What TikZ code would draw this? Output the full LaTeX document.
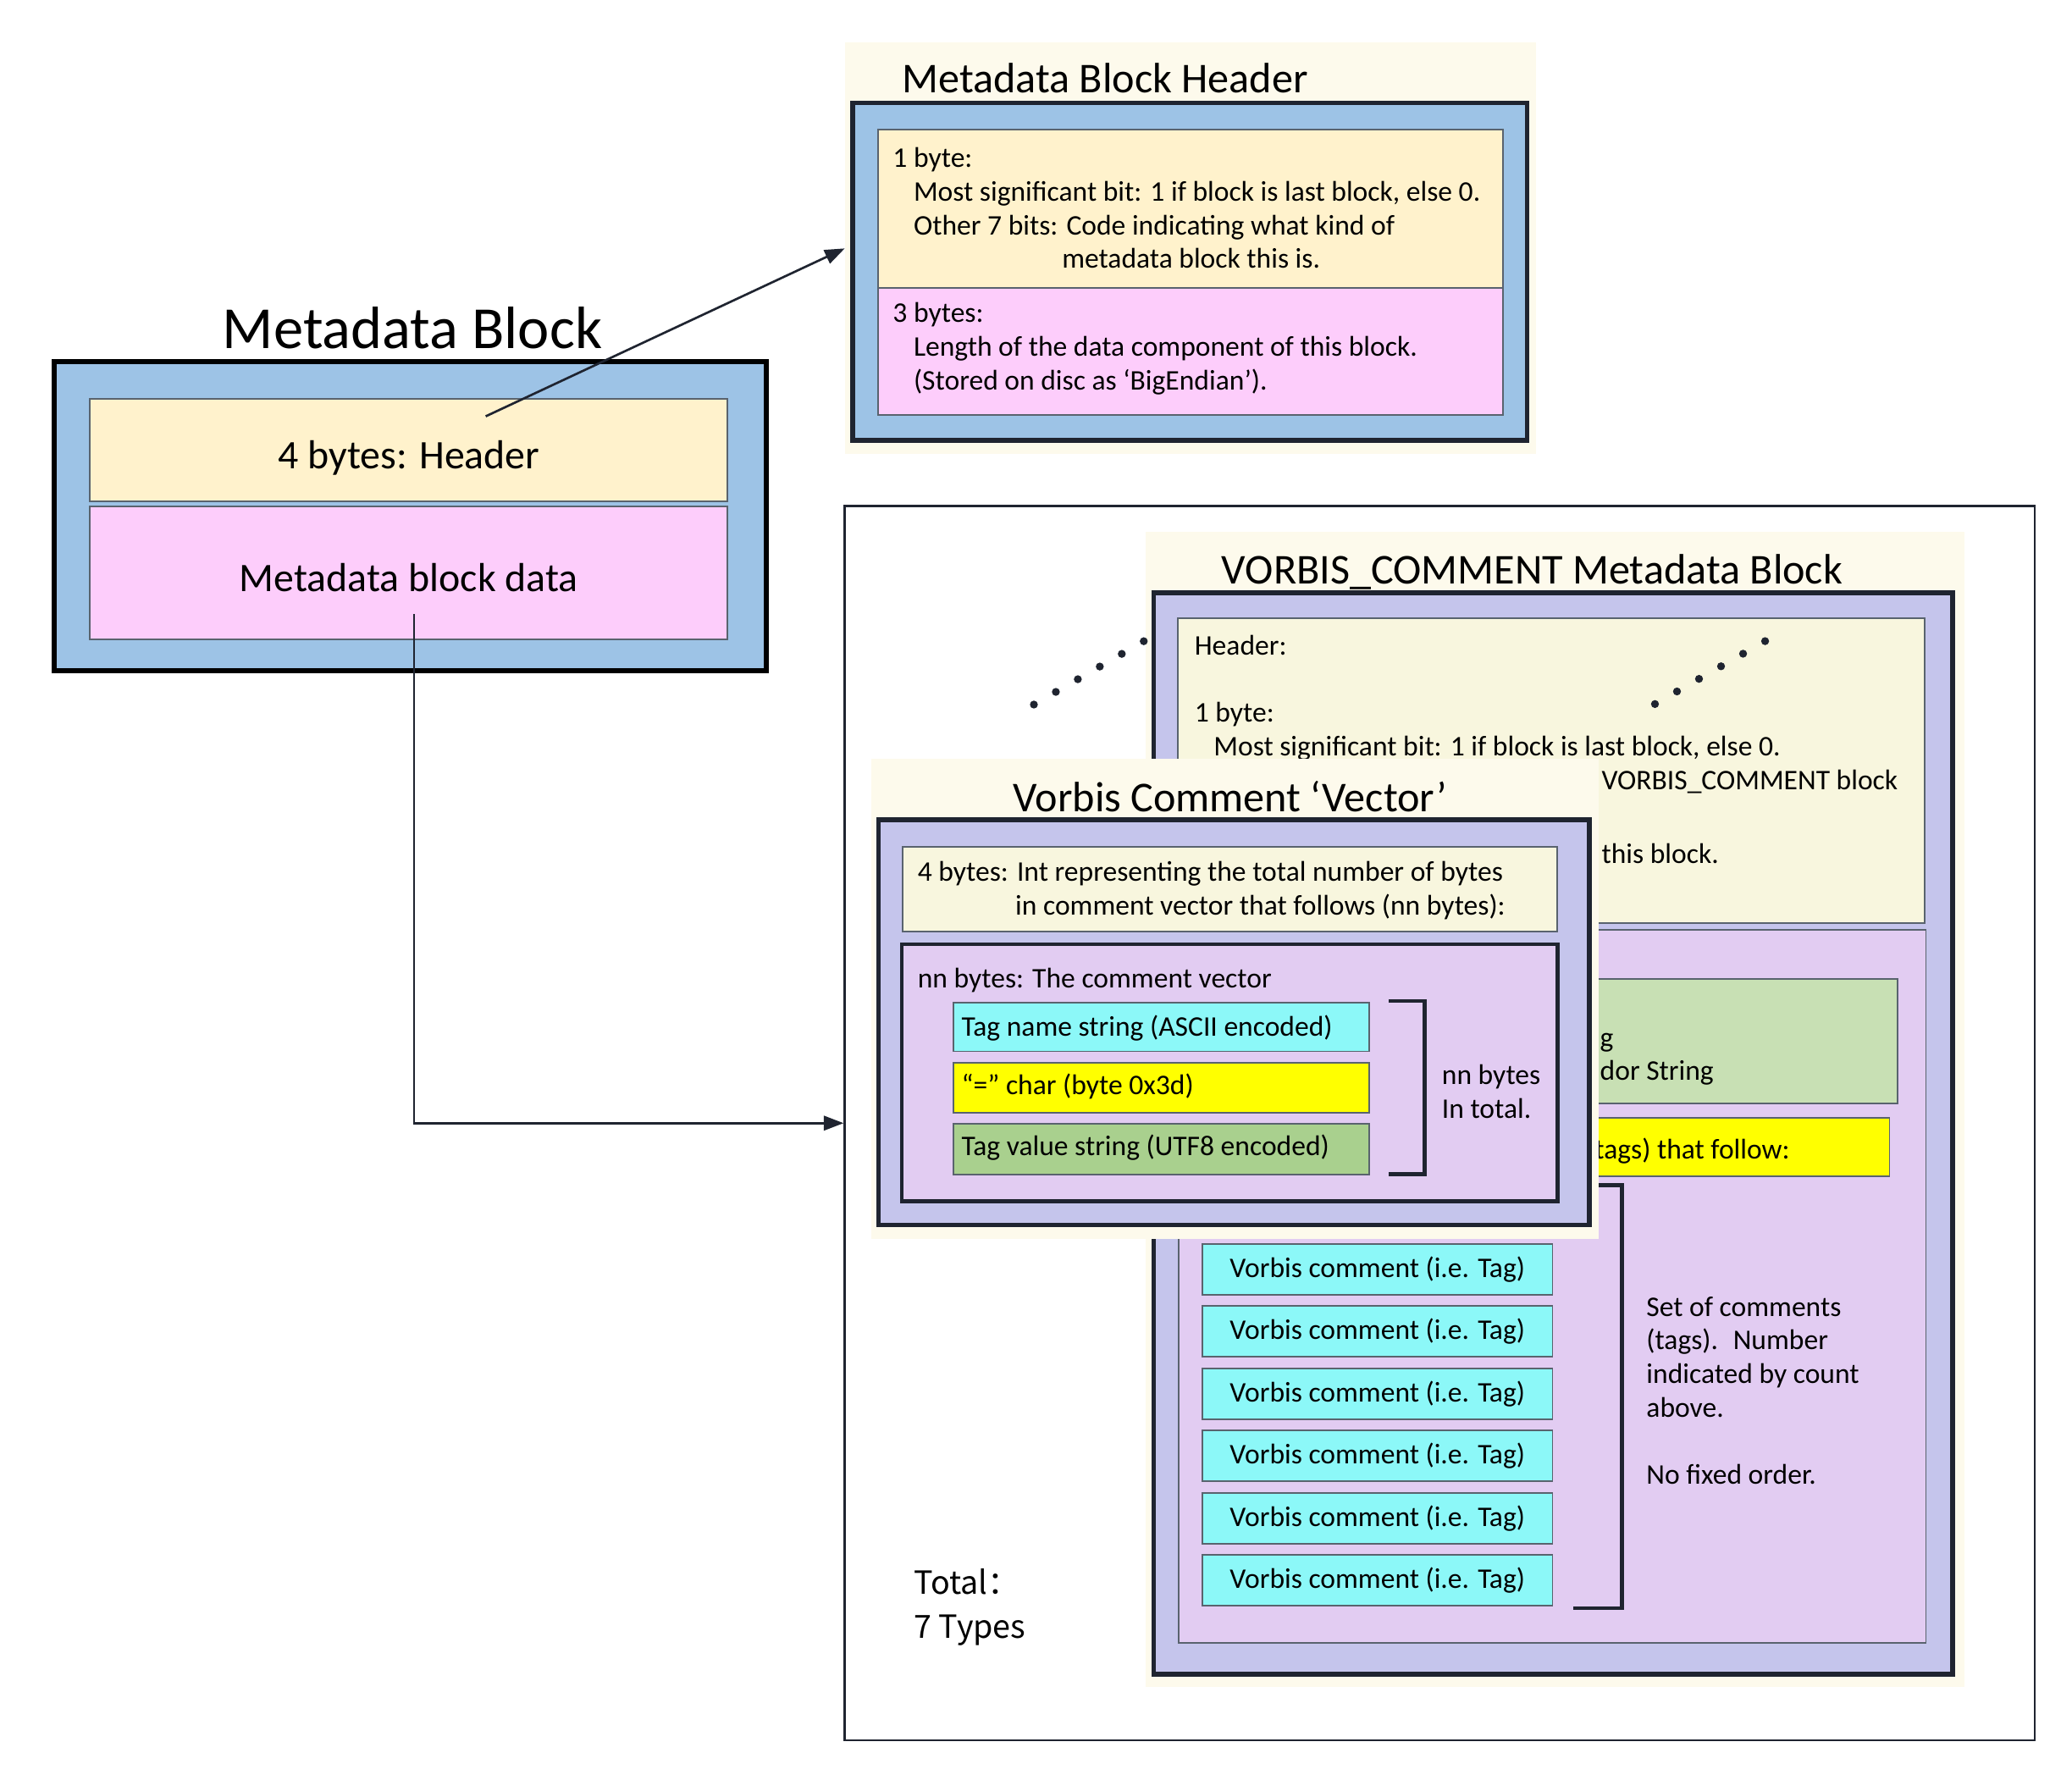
\documentclass[tikz,border=0pt]{standalone}
\usepackage{fontspec}
\setmainfont{Carlito}
\newfontfamily\cjk{Noto Sans CJK SC}
\usetikzlibrary{arrows.meta}

\definecolor{mbblue}{HTML}{9DC3E6}
\definecolor{mbcream}{HTML}{FFF2CC}
\definecolor{mbpink}{HTML}{FDCDFB}
\definecolor{panelbg}{HTML}{FDFAEC}
\definecolor{vlav}{HTML}{C5C5EC}
\definecolor{vcream}{HTML}{F8F6DE}
\definecolor{vlilac}{HTML}{E2CCF2}
\definecolor{vcyan}{HTML}{8CF8F8}
\definecolor{vyellow}{HTML}{FFFF00}
\definecolor{vgreen}{HTML}{A9D08E}
\definecolor{vgreenlt}{HTML}{C8E0B4}
\definecolor{edge}{HTML}{59636E}
\definecolor{dark}{HTML}{1F2430}

\newcommand{\bodyfont}{\fontsize{21.4}{25.3}\selectfont}
\newcommand{\blk}[7]{\node[#2, minimum width={#5-#3}, minimum height={#6-#4}] (#1) at ({(#3+#5)/2},{(#4+#6)/2}) {#7};}
\newcommand{\txtat}[4]{\node[txt] (#1) at (#2,#3) {#4};}

\begin{document}
\begin{tikzpicture}[x=1pt, y=-1pt,
  box/.style={draw=edge, line width=1.2pt, inner sep=0pt, outer sep=0pt},
  outerbox/.style={draw=dark, line width=3.5pt, inner sep=0pt, outer sep=0pt},
  panel/.style={fill=panelbg, inner sep=0pt, outer sep=0pt},
  bigtxt/.style={font=\fontsize{30.5}{36}\selectfont, text height=28pt, text depth=0pt},
  txt/.style={anchor=west, inner sep=0pt, align=left, font=\bodyfont},
  ttl/.style={anchor=base west, inner sep=0pt, font=\fontsize{32}{38}\selectfont},
  conn/.style={draw=dark, line width=1.7pt, -{Triangle[length=15pt,width=11pt]}},
  dots/.style={draw=dark, line width=6pt, line cap=round, dash pattern=on 0pt off 19.1pt},
  brk/.style={draw=dark, line width=3pt}]

  \useasboundingbox (0,0) rectangle (1560,1335.6);

  % outer frame
  \blk{frame}{draw=dark, line width=1.7pt, inner sep=0pt}{636}{381}{1532}{1310}{}

  % Metadata block
  % --------------
  \node[anchor=base, inner sep=0pt, font=\fontsize{45}{54}\selectfont] (mbtitle) at (310.5,262.4) {Metadata Block};
  \blk{mb}{outerbox, draw=black, line width=4pt, fill=mbblue}{41}{272.4}{577}{504.7}{}
  \blk{mbhead}{box, fill=mbcream, bigtxt}{67.8}{300.3}{547.8}{377.2}{4 bytes: Header}
  \blk{mbdata}{box, fill=mbpink, bigtxt}{67.8}{381.4}{547.8}{481.3}{Metadata block data}
  \coordinate (hstart) at (365.7,313.4);
  \coordinate (dstart) at (311.7,462.2);

  % Metadata block header
  % ---------------------
  \blk{hdrpanel}{panel}{636}{32}{1156.5}{342}{}
  \node[ttl] (hdrtitle) at (679,70) {Metadata Block Header};
  \blk{hdr}{outerbox, fill=mbblue}{642}{77.6}{1149.6}{331.5}{}
  \blk{hdrone}{box, fill=mbcream}{661}{97.7}{1131.7}{216.8}{}
  \blk{hdrthree}{box, fill=mbpink}{661}{216.8}{1131.7}{312.4}{}
  \node[txt] (hdronetxt) at (672,156.7) {1 byte:\\\hspace*{15.7pt}Most significant bit: 1 if block is last block, else 0.\\\hspace*{15.7pt}Other 7 bits: Code indicating what kind of\\\hspace*{127.4pt}metadata block this is.};
  \node[txt] (hdrthreetxt) at (672,262.4) {3 bytes:\\\hspace*{15.7pt}Length of the data component of this block.\\\hspace*{15.7pt}(Stored on disc as ‘BigEndian’).};

  % VORBIS_COMMENT block
  % --------------------
  \blk{vbpanel}{panel}{862.5}{400.6}{1479}{1270.2}{}
  \node[ttl] (vbtitle) at (919.7,439.3) {VORBIS\_COMMENT Metadata Block};
  \blk{vb}{outerbox, fill=vlav}{868.7}{446.3}{1470}{1260.4}{}
  \blk{vbhead}{box, fill=vcream}{887}{465.4}{1449}{695}{}
  \blk{vbbody}{box, fill=vlilac}{887.6}{700.2}{1450}{1236.6}{}
  \node[txt] (vbheadtxt) at (899.2,525.4) {Header:\\\mbox{}\\1 byte:\\\hspace*{14.4pt}Most significant bit: 1 if block is last block, else 0.};
  \txtat{vbkind}{1205.7}{588.6}{VORBIS\_COMMENT block}
  \txtat{vblen}{1205.7}{642.8}{this block.}
  \blk{vendor}{box, fill=vgreenlt}{905}{737}{1428.7}{830.7}{}
  \node[txt] (vendortxt) at (1204.5,797.3) {g\\dor String};
  \blk{count}{box, fill=vyellow}{905}{841.5}{1422.6}{885.7}{}
  \txtat{counttxt}{1200.5}{866.3}{tags) that follow:}

  \foreach \i [evaluate=\i as \vt using 936.3+46.85*\i,
    evaluate=\i as \vb using 974.7+46.85*\i] in {0, ..., 5}{
    \blk{vc\i}{box, fill=vcyan, font=\bodyfont}{905.3}{\vt}{1168.9}{\vb}{Vorbis comment (i.e. Tag)}
  }

  \draw[brk] (1180,892.2) -| (1221,1210.6) -- (1184.5,1210.6);
  \node[txt] (settxt) at (1239.4,1046.7) {Set of comments\\(tags).~ Number\\indicated by count\\above.\\\mbox{}\\No fixed order.};

  % dots
  \coordinate (dl1) at (778.4,530.4);
  \coordinate (dl2) at (861.3,482.6);
  \coordinate (dr1) at (1246,530);
  \coordinate (dr2) at (1329,482.6);
  \draw[dots] (dl1) -- (dl2);
  \draw[dots] (dr1) -- (dr2);

  % Vorbis comment vector
  % ---------------------
  \blk{vecpanel}{panel}{655.8}{571}{1203.6}{932.6}{}
  \node[ttl] (vectitle) at (762.5,611) {Vorbis Comment ‘Vector’};
  \blk{vec}{outerbox, fill=vlav}{661.3}{617}{1196.5}{922}{}
  \blk{veclen}{box, fill=vcream}{679.7}{637.3}{1172.6}{701.4}{}
  \node[txt] (veclentxt) at (690.7,670.5) {4 bytes: Int representing the total number of bytes\\\hspace*{73.6pt}in comment vector that follows (nn bytes):};
  \blk{vecbody}{outerbox, line width=3pt, fill=vlilac}{679}{710.8}{1172.6}{904.1}{}
  \txtat{vecbodytxt}{690.7}{738.1}{nn bytes: The comment vector}
  \blk{tagname}{box, fill=vcyan}{717.6}{754.7}{1031}{791.5}{}
  \txtat{tagnametxt}{723.8}{773.7}{Tag name string (ASCII encoded)}
  \blk{tageq}{box, fill=vyellow}{717.6}{799.8}{1031}{837.7}{}
  \txtat{tageqtxt}{723.8}{817.6}{“=” char (byte 0x3d)}
  \blk{tagval}{box, fill=vgreen}{717.6}{846}{1031}{884}{}
  \txtat{tagvaltxt}{723.8}{863.8}{Tag value string (UTF8 encoded)}
  \draw[brk] (1045.7,753.5) -| (1072.5,884) -- (1045.7,884);
  \node[txt] (nntxt) at (1085.4,821.7) {nn bytes\\In total.};

  \node[txt, font=\cjk\fontsize{24}{33}\selectfont] (total) at (688,1210) {Total：\\7 Types};

  % arrows
  \draw[conn] (hstart) -- (hdrpanel.west);
  \draw[conn] (dstart) |- (frame.west);

\end{tikzpicture}
\end{document}
